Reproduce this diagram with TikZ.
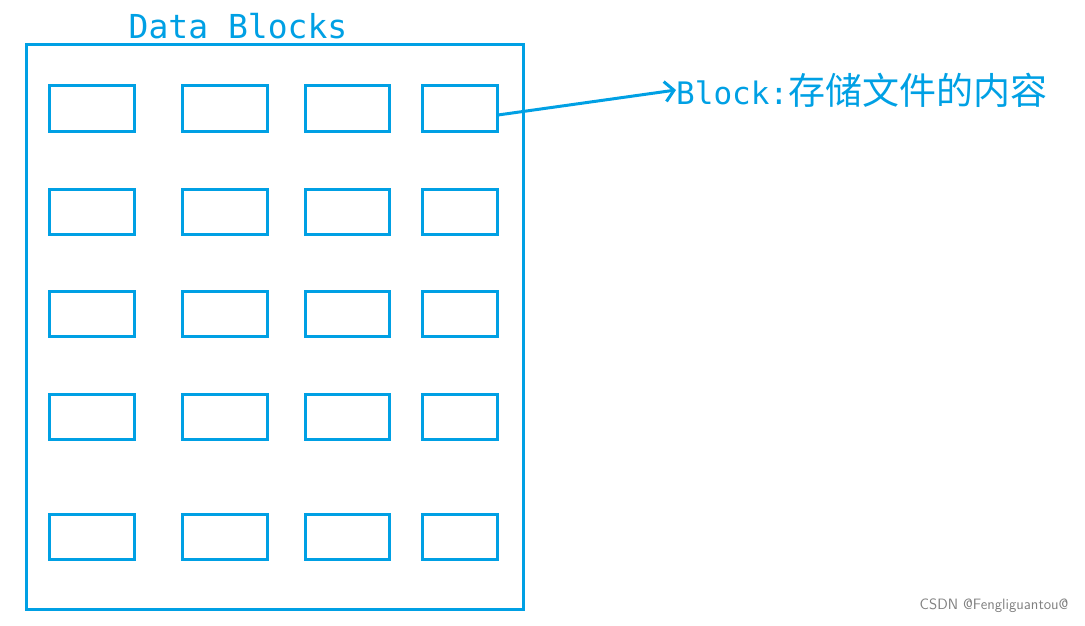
\documentclass[tikz,border=0pt]{standalone}
\usepackage{fontspec}
\setmonofont{DejaVu Sans Mono}
\newfontfamily\cjk{Noto Sans CJK SC}
\usetikzlibrary{arrows.meta}
\definecolor{blockblue}{RGB}{0,160,228}
\tikzset{
  blockbox/.style={draw=blockblue, line width=3pt},
  blocklabel/.style={text=blockblue, inner sep=0pt}
}
\begin{document}
\begin{tikzpicture}[x=1pt, y=-1pt]
\useasboundingbox (0,0) rectangle (1085,626);
%outer frame
\draw[blockbox] (26,45) rectangle (523,609);
\node[blocklabel, font=\ttfamily\fontsize{33}{36}\selectfont] (title) at (238,26) {Data Blocks};
%blocks
\foreach \r/\y in {1/86, 2/189, 3/291, 4/394, 5/514}
  \foreach \c/\x/\w in {1/49/85, 2/182/85, 3/305/84, 4/422/75}
    \draw[blockbox] (\x,\y) rectangle ++(\w,45) coordinate (b\r\c);
\coordinate (src) at (498,115);
%label
\node[blocklabel, anchor=west] (lbl) at (676,90)
  {\ttfamily\fontsize{31}{34}\selectfont Block:\cjk\fontsize{37}{40}\selectfont 存储文件的内容};
\draw[blockbox, -{Straight Barb[length=9pt, width=20pt]}] (src) -- (lbl.west);
\node[text=gray, font=\sffamily\fontsize{15}{17}\selectfont, anchor=east] (mark) at (1072,606) {CSDN @Fengliguantou@};
\end{tikzpicture}
\end{document}
